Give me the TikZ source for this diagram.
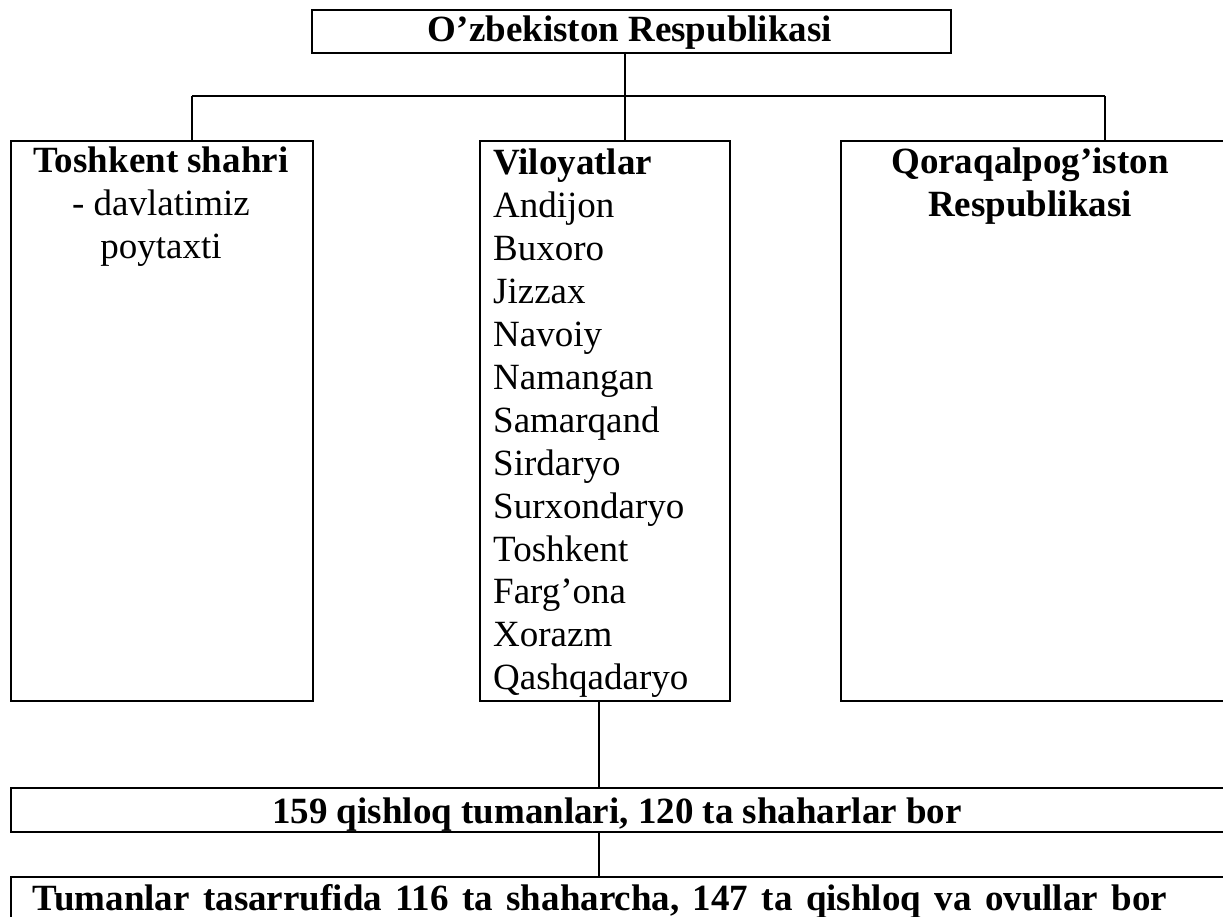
\documentclass[tikz,border=0pt]{standalone}
\usepackage{fontspec}
\setmainfont{Liberation Serif}
\begin{document}
\begin{tikzpicture}[x=1pt,y=-1pt,
  box/.style={draw, line width=2.4pt, inner sep=0pt, anchor=north west, rectangle},
  txt/.style={inner sep=0pt, font=\fontsize{37}{42.9}\selectfont},
  conn/.style={line width=2pt}]
\useasboundingbox[fill=white] (0,0) rectangle (1223,917);
% boxes
\node[box, minimum width=639pt, minimum height=43pt] (top) at (311,9) {};
\node[box, minimum width=302pt, minimum height=560pt] (left) at (10,140) {};
\node[box, minimum width=250pt, minimum height=560pt] (mid) at (479,140) {};
\node[box, minimum width=395pt, minimum height=560pt] (right) at (840,140) {};
\node[box, minimum width=1220pt, minimum height=44pt] (rowa) at (10,787) {};
\node[box, minimum width=1220pt, minimum height=60pt] (rowb) at (10,876) {};
% texts
\node[txt, anchor=base] (toptxt) at (630,42) {\bfseries O’zbekiston Respublikasi};
\node[txt, anchor=base] (lefttxt) at (161,173)
  {\begin{tabular}[t]{@{}c@{}}\textbf{Toshkent shahri}\\- davlatimiz\\poytaxti\end{tabular}};
\node[txt, anchor=base west] (midtxt) at (493,175)
  {\begin{tabular}[t]{@{}l@{}}\textbf{Viloyatlar}\\Andijon\\Buxoro\\Jizzax\\Navoiy\\Namangan\\Samarqand\\Sirdaryo\\Surxondaryo\\Toshkent\\Farg’ona\\Xorazm\\Qashqadaryo\end{tabular}};
\node[txt, anchor=base] (righttxt) at (1030,174)
  {\begin{tabular}[t]{@{}c@{}}\textbf{Qoraqalpog’iston}\\\textbf{Respublikasi}\end{tabular}};
\node[txt, anchor=base] (rowatxt) at (617,823) {\bfseries 159 qishloq tumanlari, 120 ta shaharlar bor};
\node[txt, anchor=base] (rowbtxt) at (600,910) {\bfseries\spaceskip=13.4pt\relax Tumanlar tasarrufida 116 ta shaharcha, 147 ta qishloq va ovullar bor};
% connectors
\coordinate (t0) at (625,52);
\coordinate (busL) at (192,96);
\coordinate (busM) at (625,96);
\coordinate (busR) at (1105,96);
\coordinate (m0) at (599,700);
\draw[conn] (t0) -- (busM);
\draw[conn] (busL) -- (busR);
\draw[conn] (busL) -- (busL |- left.north);
\draw[conn] (busM) -- (busM |- mid.north);
\draw[conn] (busR) -- (busR |- right.north);
\draw[conn] (m0) -- (m0 |- rowa.north);
\draw[conn] (m0 |- rowa.south) -- (m0 |- rowb.north);
\end{tikzpicture}
\end{document}
